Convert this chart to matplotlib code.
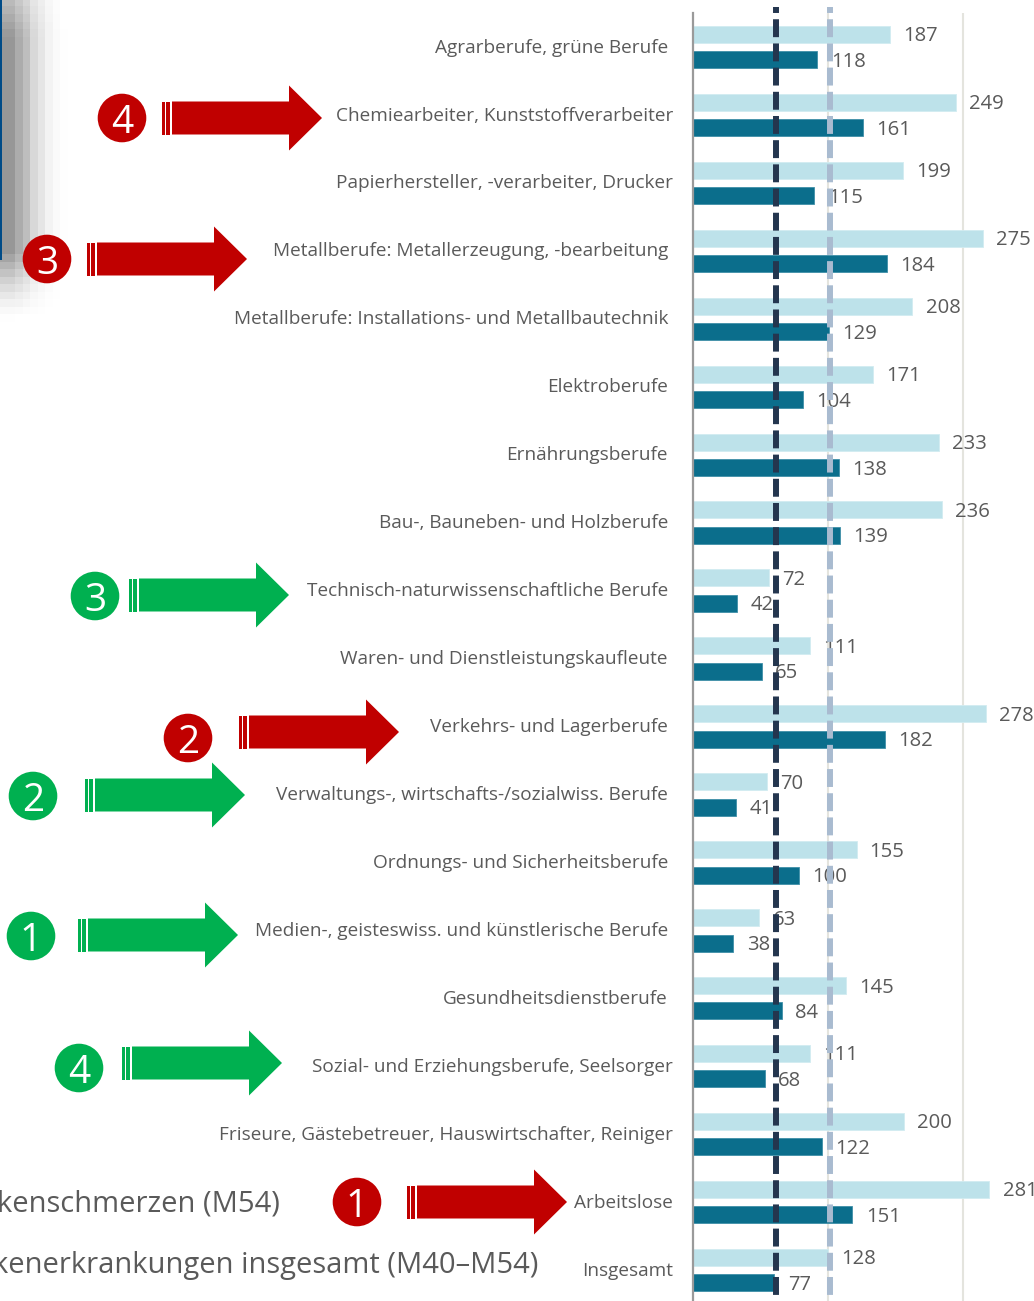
import numpy as np
import matplotlib
matplotlib.use("Agg")
import matplotlib.pyplot as plt
from matplotlib.patches import Polygon, Rectangle, Circle
from matplotlib.transforms import Affine2D, blended_transform_factory

W, H = 1034, 1301

# Berufsgruppen und Werte
occupations = [
    "Agrarberufe, grüne Berufe",
    "Chemiearbeiter, Kunststoffverarbeiter",
    "Papierhersteller, -verarbeiter, Drucker",
    "Metallberufe: Metallerzeugung, -bearbeitung",
    "Metallberufe: Installations- und Metallbautechnik",
    "Elektroberufe",
    "Ernährungsberufe",
    "Bau-, Bauneben- und Holzberufe",
    "Technisch-naturwissenschaftliche Berufe",
    "Waren- und Dienstleistungskaufleute",
    "Verkehrs- und Lagerberufe",
    "Verwaltungs-, wirtschafts-/sozialwiss. Berufe",
    "Ordnungs- und Sicherheitsberufe",
    "Medien-, geisteswiss. und künstlerische Berufe",
    "Gesundheitsdienstberufe",
    "Sozial- und Erziehungsberufe, Seelsorger",
    "Friseure, Gästebetreuer, Hauswirtschafter, Reiniger",
    "Arbeitslose",
    "Insgesamt",
]
back_total = [187, 249, 199, 275, 208, 171, 233, 236, 72, 111, 278, 70, 155, 63, 145, 111, 200, 281, 128]
back_pain = [118, 161, 115, 184, 129, 104, 138, 139, 42, 65, 182, 41, 100, 38, 84, 68, 122, 151, 77]
mean_total = back_total[-1]
mean_pain = back_pain[-1]
grid_values = [128, 256]

LIGHT = "#BDE2EA"
DARK = "#0B6E8C"
TEXT = "#5A5A5A"
RED = "#C00000"
GREEN = "#00B050"
FONT = "Open Sans"

# Lage der Beschriftungen und Pfeile in Pixeln
label_right = [668, 673, 673, 668, 668, 668, 668, 668, 668, 668, 668, 668, 668, 668, 668, 673, 673, 673, 673]
callouts = [
    ("4", RED, 122, 118, 162, 118),
    ("3", RED, 47, 259, 87, 259),
    ("2", RED, 188, 738, 239, 732),
    ("1", RED, 357, 1202, 407, 1202),
    ("3", GREEN, 95, 596, 129, 595),
    ("2", GREEN, 33, 796, 85, 795),
    ("1", GREEN, 31, 936, 78, 935),
    ("4", GREEN, 79, 1068, 122, 1063),
]
side_titles = [("Rückenschmerzen (M54)", 280, 1204), ("Rückenerkrankungen insgesamt (M40–M54)", 538, 1266)]

fig = plt.figure(figsize=(W / 100, H / 100), dpi=100, facecolor="white")

# Pixel-Ebene für Schatten, Pfeile und Randbeschriftung
bg = fig.add_axes([0, 0, 1, 1], zorder=3)
bg.set_xlim(0, W)
bg.set_ylim(H, 0)
bg.axis("off")
bg.patch.set_alpha(0)

# Schatten der angeschnittenen Fläche am linken Rand
cell = 7.5
fx = np.array([1.0, 1.0, 0.8, 0.62, 0.38, 0.25, 0.12, 0.05, 0.01])
cy = np.arange(0.0, 337.5, cell) + cell / 2
fy = np.clip(0.62 + cy / 100, 0, 1) * np.clip((322 - cy) / 70, 0, 1) ** 1.5
shade = 1 - 0.41 * np.outer(fy, fx)
bg.imshow(shade, cmap="gray", vmin=0, vmax=1, extent=(0, 67.5, 337.5, 0),
          interpolation="nearest", aspect="auto", zorder=0)
bg.set_xlim(0, W)
bg.set_ylim(H, 0)
bg.add_patch(Rectangle((0, 0), 2.4, 260, fc="#004B87", ec="none", zorder=1))

# Balkendiagramm
left_px, top_px = 693, 13
scale = 1.055
ax = fig.add_axes([left_px / W, 0, (W - left_px) / W, (H - top_px) / H], zorder=2)
ax.set_xlim(0, (W - left_px) / scale)
pitch = 67.94
first_light = 34.4 - top_px
ax.set_ylim(H - top_px, 0)
ax.patch.set_alpha(0)
for s in ["top", "right", "bottom"]:
    ax.spines[s].set_visible(False)
ax.spines["left"].set_color("#9A9A9A")
ax.spines["left"].set_linewidth(1.6)
ax.set_xticks([])
ax.set_yticks([])

for g in grid_values:
    ax.axvline(g, color="#E4E4DE", lw=1.5, zorder=1)

rows = first_light + pitch * np.arange(len(occupations))
ax.barh(rows, back_total, height=17, color=LIGHT, edgecolor="#D2ECF1", linewidth=0.6, zorder=2)
ax.barh(rows + 25.4, back_pain, height=17, color=DARK, edgecolor="#3F8FA8", linewidth=0.6, zorder=2)

for y, a, b in zip(rows, back_total, back_pain):
    ax.text(a + 12.4, y + 2.0, str(a), ha="left", va="center", fontsize=14.6, family=FONT, color=TEXT, zorder=3)
    ax.text(b + 12.8, y + 27.5, str(b), ha="left", va="center", fontsize=14.6, family=FONT, color=TEXT, zorder=3)

# Gestrichelte Mittelwertlinien, leicht neben dem Balkenende
line_top = 7 - top_px
for value, color in [(mean_pain, "#24364F"), (mean_total, "#A9BBD0")]:
    line, = ax.plot([value] * 2, [line_top, H], color=color, lw=4.3, zorder=4,
                    linestyle=(2.0, (3.0, 1.05)), dash_capstyle="butt", clip_on=False)
    line.set_transform(blended_transform_factory(ax.transData + Affine2D().translate(2, 0), ax.transData))

# Zeilenbeschriftung
for i, (name, xr) in enumerate(zip(occupations, label_right)):
    bg.text(xr, 47.6 + pitch * i, name, ha="right", va="center", fontsize=13.7, family=FONT, color=TEXT, zorder=2)

for txt, xr, y in side_titles:
    bg.text(xr, y, txt, ha="right", va="center", fontsize=21, family=FONT, color=TEXT, zorder=2, clip_on=True)


def draw_arrow(canvas, x0, yc, color):
    canvas.add_patch(Rectangle((x0, yc - 16.5), 2.7, 33, fc=color, ec="none", zorder=3))
    canvas.add_patch(Rectangle((x0 + 4, yc - 16.5), 4.2, 33, fc=color, ec="none", zorder=3))
    canvas.add_patch(Polygon(
        [(x0 + 10, yc - 16.5), (x0 + 127, yc - 16.5), (x0 + 127, yc - 32.5), (x0 + 160, yc),
         (x0 + 127, yc + 32.5), (x0 + 127, yc + 16.5), (x0 + 10, yc + 16.5)],
        closed=True, fc=color, ec="none", zorder=3))


for num, color, bx, by, ax0, ay in callouts:
    bg.add_patch(Circle((bx, by), 24.3, fc=color, ec="none", zorder=3))
    bg.text(bx, by + 0.5, num, ha="center", va="center_baseline", fontsize=28, family=FONT, color="white", zorder=4)
    draw_arrow(bg, ax0, ay, color)

fig.savefig("out.png", dpi=100, facecolor="white")
